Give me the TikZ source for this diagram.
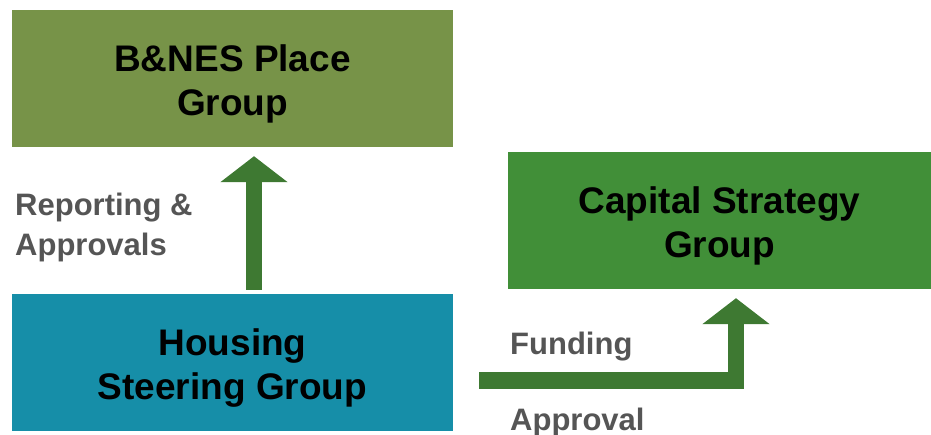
\documentclass[tikz,border=0pt]{standalone}
\usepackage{fontspec}
\setmainfont{Liberation Sans}
\usepackage{tikz}
\usetikzlibrary{arrows.meta,positioning}
\usepackage{xcolor}
\definecolor{hgolive}{RGB}{119,147,72}
\definecolor{hggreen}{RGB}{65,143,56}
\definecolor{hgteal}{RGB}{22,142,168}
\definecolor{hgarrow}{RGB}{62,121,50}
\definecolor{hggrey}{RGB}{85,85,85}
\tikzstyle{group} = [rectangle, minimum height=137pt, text centered, align=center, inner sep=0pt, text height=81pt, font=\bfseries\fontsize{37}{44}\selectfont]
\tikzstyle{flow} = [draw=hgarrow, line width=16.5pt, line join=miter, -{Triangle[width=66pt,length=26pt]}]
\tikzstyle{note} = [text=hggrey, inner sep=0pt, font=\bfseries\fontsize{31}{40}\selectfont]

\begin{document}
\begin{tikzpicture}[x=1pt,y=-1pt]
\useasboundingbox (0,0) rectangle (931,434);

% Groups
\node[group, fill=hgolive, minimum width=441pt] (place) at (232.5,78.5) {B\&NES Place\\Group};
\node[group, fill=hggreen, minimum width=423pt] (capital) at (719.5,220.5) {Capital Strategy\\Group};
\node[group, fill=hgteal, minimum width=441pt] (housing) at (232.5,362.5) {Housing\\Steering Group};

% Arrows
\draw[flow] ([xshift=21.5pt,yshift=4pt]housing.north) -- ([xshift=21.5pt,yshift=-9pt]place.south);
\coordinate (fundstart) at ([xshift=26pt,yshift=-18pt]housing.east);
\draw[flow] (fundstart) -| ([xshift=16.5pt,yshift=-9pt]capital.south);

% Labels on arrows
\node[note, anchor=west, align=left] (report) at (15,227) {Reporting \&\\Approvals};
\node[note, anchor=base west] (funding) at (510,354) {Funding};
\node[note, anchor=base west] (approval) at (510,430) {Approval};
\end{tikzpicture}
\end{document}
